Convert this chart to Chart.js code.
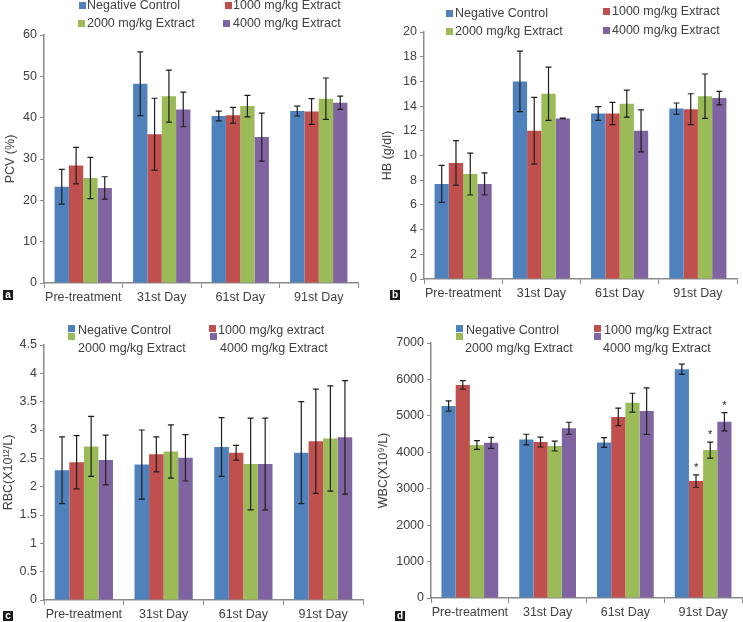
<!DOCTYPE html>
<html>
<head>
<meta charset="utf-8">
<script src="https://cdn.jsdelivr.net/npm/chart.js@4"></script>
<style>
  body { margin: 0; background: #fff; }
  #wrap { position: relative; width: 743px; height: 622px; background: #fff; overflow: hidden;
          font-family: "Liberation Sans", Arial, sans-serif; }
  .panel { position: absolute; }
  .lg { position: absolute; font-size: 12.5px; color: #404040; white-space: nowrap; line-height: 14px; }
  .mk { position: absolute; width: 7px; height: 7px; }
  .tag { position: absolute; width: 10px; height: 10px; background: #1a1a1a; color: #fff;
         font-size: 10px; font-weight: bold; line-height: 10px; text-align: center; }
</style>
</head>
<body>
<div id="wrap">
  <div class="panel" style="left:0;top:0"><canvas id="pcv" width="372" height="310"></canvas></div>
  <div class="panel" style="left:372px;top:0"><canvas id="hb" width="371" height="310"></canvas></div>
  <div class="panel" style="left:0;top:310px"><canvas id="rbc" width="372" height="312"></canvas></div>
  <div class="panel" style="left:372px;top:310px"><canvas id="wbc" width="371" height="312"></canvas></div>
</div>
<script>
const categories = ['Pre-treatment', '31st Day', '61st Day', '91st Day'];
const seriesNames = ['Negative Control', '1000 mg/kg Extract', '2000 mg/kg Extract', '4000 mg/kg Extract'];
const rbcLegendNames = ['Negative Control', '1000 mg/kg extract', '2000 mg/kg Extract', '4000 mg/kg Extract'];
const colors = ['#4F81BD', '#C0504D', '#9BBB59', '#8064A2'];

// one row per series, one value per category
const pcvMeans = [[23.3, 48.2, 40.4, 41.6], [28.4, 36.0, 40.6, 41.5], [25.4, 45.2, 42.8, 44.6], [23.0, 42.0, 35.3, 43.6]];
const pcvErrors = [[4.2, 7.7, 1.2, 1.2], [4.4, 8.7, 1.9, 3.1], [5.0, 6.3, 2.6, 5.0], [2.7, 4.2, 5.8, 1.6]];

const hbMeans = [[7.7, 16.0, 13.4, 13.8], [9.4, 12.0, 13.4, 13.75], [8.5, 15.0, 14.2, 14.8], [7.7, 13.0, 12.0, 14.65]];
const hbErrors = [[1.5, 2.45, 0.55, 0.45], [1.8, 2.7, 0.9, 1.25], [1.7, 2.15, 1.1, 1.8], [0.9, 0.02, 1.7, 0.55]];

const rbcMeans = [[2.29, 2.39, 2.70, 2.60], [2.43, 2.57, 2.60, 2.80], [2.71, 2.62, 2.40, 2.85], [2.47, 2.51, 2.40, 2.87]];
const rbcErrors = [[0.59, 0.61, 0.52, 0.90], [0.47, 0.31, 0.13, 0.92], [0.53, 0.47, 0.81, 0.93], [0.44, 0.41, 0.81, 1.00]];

const wbcMeans = [[5270, 4350, 4270, 6280], [5850, 4280, 4970, 3210], [4200, 4170, 5360, 4060], [4260, 4660, 5130, 4840]];
const wbcErrors = [[140, 145, 135, 140], [115, 135, 240, 170], [120, 135, 260, 220], [150, 165, 640, 250]];
const wbcStars = [[false, false, false, false], [false, false, false, true], [false, false, false, true], [false, false, false, true]];

const axisColor = '#8a8a8a';
const textColor = '#404040';
const font = { family: '"Liberation Sans", Arial, sans-serif', size: 12.5 };

const errorBars = {
  id: 'errorBars',
  afterDatasetsDraw(chart, args, opts) {
    const ctx = chart.ctx;
    const y = chart.scales.y;
    ctx.save();
    ctx.strokeStyle = '#1e1e1e';
    ctx.lineWidth = 1.2;
    chart.data.datasets.forEach((ds, di) => {
      const meta = chart.getDatasetMeta(di);
      meta.data.forEach((bar, i) => {
        const m = ds.data[i], e = ds.errors[i];
        const top = y.getPixelForValue(m + e), bot = y.getPixelForValue(m - e);
        ctx.beginPath();
        ctx.moveTo(bar.x, top); ctx.lineTo(bar.x, bot);
        ctx.moveTo(bar.x - 3, top); ctx.lineTo(bar.x + 3, top);
        ctx.moveTo(bar.x - 3, bot); ctx.lineTo(bar.x + 3, bot);
        ctx.stroke();
        if (ds.stars && ds.stars[i]) {
          ctx.fillStyle = '#222';
          ctx.font = '11px "Liberation Sans", Arial, sans-serif';
          ctx.textAlign = 'center';
          ctx.fillText('*', bar.x, top - 4);
        }
      });
    });
    ctx.restore();
  }
};

function makeChart(id, means, errors, stars, yMax, step, title, pad, yWidth, xHeight, titlePad) {
  new Chart(document.getElementById(id), {
    type: 'bar',
    data: {
      labels: categories,
      datasets: seriesNames.map((name, s) => ({
        label: name,
        data: means[s],
        errors: errors[s],
        stars: stars ? stars[s] : null,
        backgroundColor: colors[s],
        borderWidth: 0,
        categoryPercentage: 0.73,
        barPercentage: 1.0
      }))
    },
    options: {
      responsive: false,
      animation: false,
      layout: { padding: { top: pad.top, right: pad.right, left: 0, bottom: 0 } },
      plugins: { legend: { display: false }, tooltip: { enabled: false } },
      scales: {
        x: {
          grid: { drawOnChartArea: false, drawTicks: true, tickLength: 5, color: axisColor, offset: true },
          border: { color: axisColor, width: 1.5 },
          ticks: { color: textColor, font: font, padding: 2, maxRotation: 0, autoSkip: false },
          afterFit: s => { s.height = xHeight; }
        },
        y: {
          min: 0, max: yMax,
          grid: { drawOnChartArea: false, drawTicks: true, tickLength: 4, color: axisColor },
          border: { color: axisColor, width: 1.5 },
          ticks: { stepSize: step, color: textColor, font: font, padding: 3, callback: v => String(v) },
          title: { display: true, text: title, color: textColor, font: font, padding: { top: titlePad, bottom: 0 } },
          afterFit: s => { s.width = yWidth; }
        }
      }
    },
    plugins: [errorBars]
  });
}

makeChart('pcv', pcvMeans, pcvErrors, null, 60, 10, 'PCV (%)', { top: 35, right: 14 }, 44, 27, 3);
makeChart('hb', hbMeans, hbErrors, null, 20, 2, 'HB (g/dl)', { top: 32, right: 6 }, 52, 31, 8);
makeChart('rbc', rbcMeans, rbcErrors, null, 4.5, 0.5, 'RBC(X10\u00B9\u00B2/L)', { top: 35, right: 9 }, 44, 22, 1);
makeChart('wbc', wbcMeans, wbcErrors, wbcStars, 7000, 1000, 'WBC(X10\u2079/L)', { top: 33, right: 1 }, 59, 24, 4);

// legends and panel tags
const wrap = document.getElementById('wrap');
function addText(cls, x, y, text) {
  const d = document.createElement('div');
  d.className = cls; d.style.left = x + 'px'; d.style.top = y + 'px'; d.textContent = text;
  wrap.appendChild(d);
}
function addMark(x, y, c) {
  const d = document.createElement('div');
  d.className = 'mk'; d.style.left = x + 'px'; d.style.top = y + 'px'; d.style.background = c;
  wrap.appendChild(d);
}
// [markerX, markerY, textX, textY]
const legendA = [[79, 2, 87, -2], [225, 2, 233, -2], [78, 20, 87, 16], [223, 20, 233, 16]];
const legendB = [[446, 10, 455, 6], [603, 8, 612, 4], [446, 28, 455, 24], [603, 27, 612, 23]];
const legendC = [[68, 325, 78, 323], [209, 325, 218, 323], [68, 333, 78, 341], [210, 333, 220, 341]];
const legendD = [[456, 325, 466, 323], [594, 325, 604, 323], [456, 333, 465, 341], [594, 333, 603, 341]];
[[legendA, seriesNames], [legendB, seriesNames], [legendC, rbcLegendNames], [legendD, seriesNames]].forEach(([pos, names]) => {
  pos.forEach((p, s) => {
    addMark(p[0], p[1], colors[s]);
    addText('lg', p[2], p[3], names[s]);
  });
});
addText('tag', 3, 290, 'a');
addText('tag', 390, 290, 'b');
addText('tag', 3, 611, 'c');
addText('tag', 395, 611, 'd');
</script>
</body>
</html>
